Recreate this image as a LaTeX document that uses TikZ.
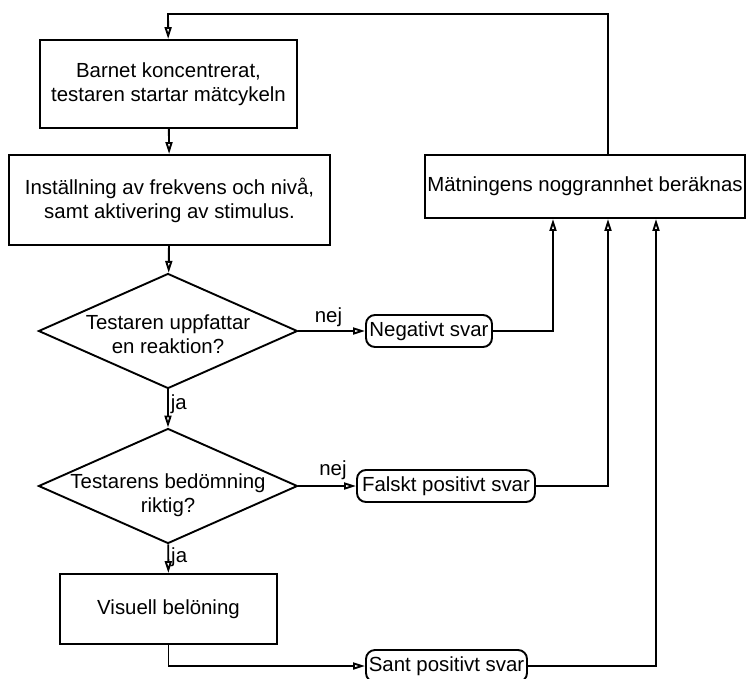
\documentclass[tikz,border=0pt]{standalone}
\usepackage{fontspec}
\setmainfont{Liberation Sans}
\usetikzlibrary{shapes.geometric,arrows.meta}
\newcommand{\sink}[1]{\rule{0pt}{#1}}

\begin{document}
\begin{tikzpicture}[> = {Triangle[open, length=12pt, width=7pt]}, x=1pt, y=-1pt, line width=1.9pt,
        font=\fontsize{20.4}{24}\selectfont]
                \tikzstyle{box}=[rectangle, draw, align=center, inner sep=0pt]
                \tikzstyle{choice}=[diamond, draw, align=center, inner sep=-20pt, aspect=2.2,
                    minimum width=259pt, minimum height=115pt]
                \tikzstyle{answer}=[rectangle, draw, rounded corners=9pt, inner sep=0pt, minimum height=32pt]

                \useasboundingbox (0,0) rectangle (746,678);

                    % Noder
                    \node[box, minimum width=257pt, minimum height=88pt] (start) at (168.5,84) {Barnet koncentrerat,\\testaren startar mätcykeln};
                    \node[box, minimum width=321pt, minimum height=90pt] (stim) at (169.5,200) {Inställning av frekvens och nivå,\\samt aktivering av stimulus.};
                    \node[choice] (react) at (168,331) {\sink{21pt}Testaren uppfattar\\en reaktion?};
                    \node[choice] (judge) at (168,486) {\sink{33pt}Testarens bedömning\\riktig?};
                    \node[box, minimum width=217pt, minimum height=70pt] (reward) at (168.5,609) {Visuell belöning};
                    \node[box, minimum width=320pt, minimum height=63pt] (acc) at (585,186.5) {Mätningens noggrannhet beräknas};
                    \node[answer, minimum width=126pt] (neg) at (429,331) {Negativt svar};
                    \node[answer, minimum width=178pt] (fal) at (446,486) {Falskt positivt svar};
                    \node[answer, minimum width=161pt] (sant) at (446.5,666) {Sant positivt svar};
                    \coordinate (top) at (168,14);

                    % Pilar
                    \draw[->] (start) -- (stim);
                    \draw[->] (stim) -- (react);
                    \draw[->] (react) -- node[right, pos=0.4, inner sep=2pt] {ja} (judge);
                    \draw[->] (judge) -- node[right, pos=0.45, inner sep=2pt] {ja} (reward);
                    \draw[->] (react) -- node[above, pos=0.45, inner sep=3pt] {nej} (neg);
                    \draw[->] (judge) -- node[above, pos=0.6, inner sep=5pt] {nej} (fal);
                    \draw[->] (reward) |- (sant);
                    \draw[->] (neg) -| ([xshift=-32pt]acc.south);
                    \draw[->] (fal) -| ([xshift=23pt]acc.south);
                    \draw[->] (sant) -| ([xshift=71pt]acc.south);
                    \draw[->] ([xshift=23pt]acc.north) |- (top) -- (start);
            \end{tikzpicture}
\end{document}
